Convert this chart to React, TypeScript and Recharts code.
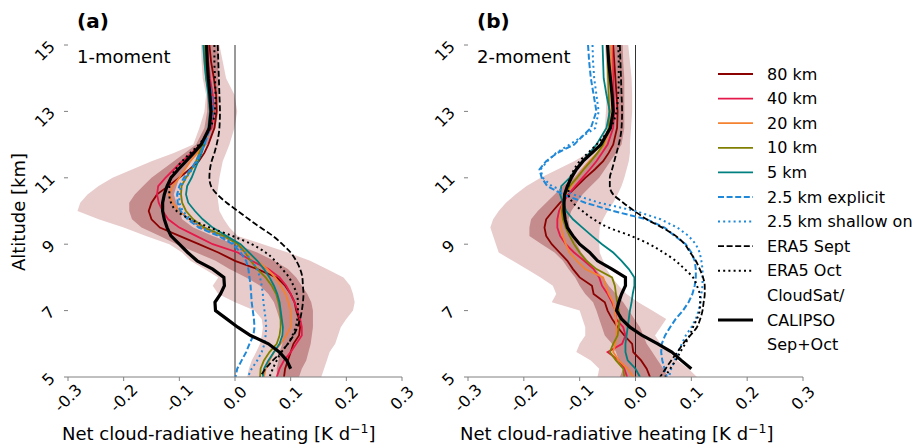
import React from 'react'
import { Area, ComposedChart, Line, ReferenceLine, XAxis, YAxis } from 'recharts'

// altitude levels [km]
const ALT = [5, 5.25, 5.5, 5.75, 6, 6.25, 6.5, 6.75, 7, 7.25, 7.5, 7.75, 8, 8.25, 8.5, 8.75, 9, 9.25, 9.5, 9.75, 10, 10.25, 10.5, 10.75, 11, 11.25, 11.5, 11.75, 12, 12.5, 13, 13.5, 14, 14.5, 15]
const X_TICKS = [-0.3, -0.2, -0.1, 0, 0.1, 0.2, 0.3]
const Y_TICKS = [5, 7, 9, 11, 13, 15]

// (a) 1-moment
const A_LIGHT_LO = [0.022, 0.025, 0.03, 0.038, 0.045, 0.048, 0.05, 0.048, 0.035, 0.0, -0.03, -0.04, -0.03, -0.055, -0.08, -0.095, -0.118, -0.16, -0.2, -0.245, -0.283, -0.278, -0.265, -0.245, -0.22, -0.185, -0.15, -0.11, -0.075, -0.064, -0.055, -0.052, -0.058, -0.06, -0.061]
const A_LIGHT_HI = [0.155, 0.16, 0.165, 0.17, 0.18, 0.185, 0.19, 0.2, 0.212, 0.215, 0.212, 0.207, 0.195, 0.165, 0.135, 0.095, 0.05, 0.005, -0.01, -0.02, -0.028, -0.03, -0.032, -0.03, -0.028, -0.025, -0.022, -0.016, -0.01, -0.001, 0.004, -0.001, -0.016, -0.022, -0.028]
const A_DARK_LO = [0.075, 0.075, 0.078, 0.08, 0.085, 0.085, 0.085, 0.08, 0.075, 0.07, 0.06, 0.045, 0.02, -0.01, -0.035, -0.07, -0.105, -0.135, -0.168, -0.185, -0.19, -0.19, -0.18, -0.165, -0.15, -0.13, -0.11, -0.09, -0.07, -0.055, -0.05, -0.05, -0.05, -0.05, -0.05]
const A_DARK_HI = [0.115, 0.12, 0.128, 0.132, 0.136, 0.138, 0.14, 0.14, 0.14, 0.137, 0.13, 0.12, 0.11, 0.095, 0.07, 0.04, 0.0, -0.04, -0.075, -0.095, -0.1, -0.105, -0.11, -0.105, -0.1, -0.09, -0.08, -0.065, -0.05, -0.035, -0.03, -0.03, -0.03, -0.03, -0.03]
const A_80 = [0.088, 0.09, 0.095, 0.1, 0.105, 0.115, 0.117, 0.115, 0.11, 0.107, 0.1, 0.09, 0.075, 0.04, 0.0, -0.03, -0.065, -0.1, -0.135, -0.15, -0.155, -0.15, -0.14, -0.12, -0.1, -0.082, -0.065, -0.055, -0.048, -0.037, -0.033, -0.034, -0.038, -0.043, -0.046]
const A_40 = [0.075, 0.08, 0.088, 0.1, 0.11, 0.12, 0.12, 0.117, 0.112, 0.107, 0.1, 0.092, 0.08, 0.06, 0.03, 0.005, -0.04, -0.07, -0.1, -0.12, -0.13, -0.137, -0.14, -0.138, -0.125, -0.11, -0.095, -0.078, -0.062, -0.042, -0.038, -0.04, -0.045, -0.048, -0.05]
const A_20 = [0.052, 0.055, 0.062, 0.07, 0.082, 0.092, 0.1, 0.1, 0.1, 0.096, 0.091, 0.082, 0.072, 0.058, 0.04, 0.022, 0.008, -0.025, -0.06, -0.082, -0.1, -0.112, -0.118, -0.112, -0.1, -0.09, -0.08, -0.068, -0.058, -0.045, -0.04, -0.045, -0.05, -0.052, -0.054]
const A_10 = [0.045, 0.046, 0.052, 0.062, 0.075, 0.08, 0.082, 0.082, 0.081, 0.078, 0.074, 0.066, 0.055, 0.04, 0.028, 0.018, 0.005, -0.02, -0.055, -0.075, -0.088, -0.095, -0.097, -0.096, -0.088, -0.078, -0.07, -0.064, -0.058, -0.046, -0.041, -0.046, -0.052, -0.054, -0.055]
const A_5 = [0.05, 0.052, 0.06, 0.07, 0.08, 0.085, 0.086, 0.084, 0.082, 0.08, 0.076, 0.07, 0.062, 0.052, 0.04, 0.025, 0.01, -0.015, -0.04, -0.058, -0.072, -0.084, -0.088, -0.086, -0.078, -0.072, -0.066, -0.06, -0.055, -0.048, -0.045, -0.048, -0.052, -0.055, -0.057]
const A_EXPL = [0.001, 0.004, 0.012, 0.02, 0.026, 0.033, 0.035, 0.034, 0.032, 0.03, 0.029, 0.028, 0.026, 0.024, 0.02, 0.01, -0.004, -0.03, -0.065, -0.085, -0.098, -0.103, -0.104, -0.1, -0.092, -0.08, -0.07, -0.062, -0.055, -0.045, -0.04, -0.042, -0.048, -0.05, -0.052]
const A_SHAL = [0.023, 0.03, 0.04, 0.048, 0.053, 0.055, 0.056, 0.055, 0.053, 0.051, 0.05, 0.048, 0.045, 0.04, 0.03, 0.018, 0.0, -0.025, -0.06, -0.08, -0.094, -0.1, -0.1, -0.097, -0.088, -0.077, -0.068, -0.061, -0.055, -0.045, -0.04, -0.043, -0.048, -0.05, -0.052]
const A_SEPT = [0.045, 0.055, 0.068, 0.083, 0.095, 0.105, 0.112, 0.117, 0.12, 0.122, 0.123, 0.122, 0.121, 0.117, 0.11, 0.1, 0.085, 0.068, 0.046, 0.025, 0.005, -0.015, -0.032, -0.043, -0.046, -0.045, -0.042, -0.037, -0.033, -0.028, -0.027, -0.028, -0.029, -0.03, -0.031]
const A_OCT = [0.062, 0.068, 0.075, 0.083, 0.095, 0.103, 0.109, 0.112, 0.113, 0.113, 0.111, 0.105, 0.097, 0.085, 0.072, 0.055, 0.03, -0.005, -0.045, -0.08, -0.105, -0.115, -0.118, -0.118, -0.115, -0.107, -0.095, -0.08, -0.065, -0.045, -0.036, -0.035, -0.036, -0.037, -0.037]
const A_CS = [null, 0.1, 0.093, 0.08, 0.06, 0.028, 0.005, -0.015, -0.035, -0.036, -0.026, -0.019, -0.02, -0.04, -0.068, -0.085, -0.1, -0.115, -0.122, -0.127, -0.13, -0.13, -0.127, -0.122, -0.115, -0.102, -0.088, -0.074, -0.061, -0.046, -0.043, -0.045, -0.048, -0.05, -0.051]

// (b) 2-moment
const B_LIGHT_LO = [-0.068, -0.065, -0.08, -0.106, -0.1, -0.09, -0.09, -0.095, -0.1, -0.15, -0.142, -0.148, -0.17, -0.195, -0.22, -0.245, -0.25, -0.255, -0.26, -0.255, -0.245, -0.232, -0.215, -0.195, -0.17, -0.14, -0.11, -0.085, -0.065, -0.055, -0.053, -0.052, -0.052, -0.053, -0.055]
const B_LIGHT_HI = [0.11, 0.095, 0.075, 0.06, 0.045, 0.035, 0.045, 0.055, 0.03, 0.005, -0.016, -0.03, -0.042, -0.052, -0.058, -0.064, -0.065, -0.065, -0.064, -0.058, -0.05, -0.04, -0.032, -0.025, -0.02, -0.016, -0.012, -0.01, -0.01, -0.008, -0.006, -0.006, -0.007, -0.01, -0.013]
const B_DARK_LO = [-0.028, -0.022, -0.03, -0.035, -0.042, -0.055, -0.06, -0.065, -0.07, -0.076, -0.09, -0.1, -0.108, -0.12, -0.13, -0.145, -0.168, -0.19, -0.19, -0.187, -0.175, -0.16, -0.145, -0.13, -0.11, -0.098, -0.085, -0.07, -0.055, -0.045, -0.043, -0.043, -0.045, -0.046, -0.047]
const B_DARK_HI = [0.058, 0.05, 0.04, 0.03, 0.02, 0.014, 0.008, -0.002, -0.012, -0.022, -0.035, -0.048, -0.058, -0.072, -0.085, -0.097, -0.105, -0.112, -0.118, -0.12, -0.115, -0.105, -0.095, -0.08, -0.065, -0.055, -0.045, -0.035, -0.025, -0.02, -0.02, -0.02, -0.02, -0.022, -0.023]
const B_80 = [0.026, 0.02, 0.01, -0.004, -0.006, -0.02, -0.032, -0.042, -0.05, -0.055, -0.075, -0.078, -0.1, -0.112, -0.122, -0.136, -0.15, -0.16, -0.163, -0.16, -0.148, -0.135, -0.12, -0.105, -0.09, -0.073, -0.058, -0.048, -0.04, -0.033, -0.032, -0.034, -0.036, -0.038, -0.04]
const B_40 = [-0.015, -0.02, -0.03, -0.05, -0.024, -0.018, -0.022, -0.035, -0.036, -0.042, -0.05, -0.06, -0.065, -0.075, -0.092, -0.11, -0.125, -0.135, -0.14, -0.14, -0.137, -0.13, -0.12, -0.108, -0.095, -0.082, -0.07, -0.06, -0.05, -0.04, -0.038, -0.039, -0.04, -0.041, -0.042]
const B_20 = [-0.004, -0.014, -0.03, -0.04, -0.036, -0.034, -0.034, -0.035, -0.037, -0.04, -0.048, -0.053, -0.058, -0.09, -0.105, -0.118, -0.125, -0.13, -0.133, -0.135, -0.133, -0.13, -0.125, -0.115, -0.105, -0.094, -0.082, -0.068, -0.056, -0.045, -0.043, -0.043, -0.043, -0.043, -0.043]
const B_10 = [-0.02, -0.022, -0.035, -0.046, -0.04, -0.032, -0.03, -0.028, -0.03, -0.033, -0.035, -0.037, -0.042, -0.07, -0.088, -0.1, -0.11, -0.118, -0.125, -0.13, -0.132, -0.13, -0.125, -0.118, -0.105, -0.093, -0.08, -0.068, -0.058, -0.048, -0.047, -0.048, -0.049, -0.05, -0.05]
const B_5 = [0.008, 0.0, -0.014, -0.018, -0.018, -0.016, -0.014, -0.012, -0.01, -0.007, -0.005, -0.002, -0.002, -0.012, -0.025, -0.04, -0.06, -0.078, -0.095, -0.112, -0.124, -0.13, -0.135, -0.133, -0.118, -0.107, -0.095, -0.082, -0.07, -0.052, -0.046, -0.052, -0.057, -0.058, -0.059]
const B_EXPL = [0.056, 0.052, 0.048, 0.046, 0.047, 0.053, 0.062, 0.072, 0.085, 0.095, 0.102, 0.106, 0.108, 0.108, 0.106, 0.1, 0.09, 0.07, 0.052, 0.02, -0.04, -0.09, -0.13, -0.158, -0.168, -0.172, -0.16, -0.14, -0.11, -0.08, -0.07, -0.075, -0.08, -0.083, -0.085]
const B_SHAL = [0.06, 0.064, 0.07, 0.076, 0.083, 0.09, 0.1, 0.108, 0.113, 0.116, 0.118, 0.12, 0.12, 0.12, 0.118, 0.115, 0.108, 0.095, 0.075, 0.045, 0.0, -0.065, -0.112, -0.15, -0.166, -0.17, -0.158, -0.142, -0.118, -0.072, -0.066, -0.07, -0.074, -0.076, -0.077]
const B_SEPT = [0.044, 0.054, 0.064, 0.075, 0.085, 0.098, 0.11, 0.116, 0.12, 0.122, 0.124, 0.124, 0.121, 0.115, 0.108, 0.098, 0.088, 0.072, 0.048, 0.02, -0.002, -0.022, -0.04, -0.046, -0.046, -0.042, -0.038, -0.034, -0.03, -0.025, -0.024, -0.025, -0.026, -0.027, -0.028]
const B_OCT = [0.053, 0.062, 0.072, 0.08, 0.089, 0.097, 0.103, 0.11, 0.115, 0.116, 0.115, 0.11, 0.103, 0.088, 0.072, 0.05, 0.025, -0.008, -0.048, -0.075, -0.095, -0.112, -0.12, -0.12, -0.117, -0.11, -0.1, -0.085, -0.07, -0.045, -0.034, -0.031, -0.03, -0.03, -0.031]
const B_CS = [null, 0.1, 0.082, 0.065, 0.04, 0.012, -0.01, -0.025, -0.034, -0.03, -0.025, -0.018, -0.018, -0.042, -0.068, -0.082, -0.1, -0.112, -0.122, -0.126, -0.128, -0.128, -0.127, -0.122, -0.115, -0.106, -0.094, -0.078, -0.062, -0.045, -0.04, -0.042, -0.045, -0.048, -0.05]

const LIGHT = '#e8cccc'
const DARK = '#c48c8c'
const BLUE = '#1f88d8'
const DASH = '6 2.6'
const DOT = '2 3.2'

const SERIES = [
  { key: 'r80', name: '80 km', color: '#8b0000', width: 1.8 },
  { key: 'r40', name: '40 km', color: '#e6194b', width: 1.8 },
  { key: 'r20', name: '20 km', color: '#f58231', width: 1.8 },
  { key: 'r10', name: '10 km', color: '#808000', width: 1.8 },
  { key: 'r5', name: '5 km', color: '#008080', width: 1.8 },
  { key: 'expl', name: '2.5 km explicit', color: BLUE, width: 2, dash: DASH },
  { key: 'shal', name: '2.5 km shallow on', color: BLUE, width: 2, dash: DOT },
  { key: 'sept', name: 'ERA5 Sept', color: '#000', width: 1.8, dash: DASH, curve: 'monotoneY' },
  { key: 'oct', name: 'ERA5 Oct', color: '#000', width: 2, dash: DOT, curve: 'monotoneY' },
  { key: 'cs', name: 'CloudSat/\nCALIPSO\nSep+Oct', color: '#000', width: 3.2 },
]

// rows ordered from 15 km down to 5 km so the profiles run top to bottom
const build = (series: Record<string, (number | null)[]>, light: number[][], dark: number[][]) =>
  ALT.map((alt, i) => {
    const row: any = { alt, light: [light[0][i], light[1][i]], dark: [dark[0][i], dark[1][i]] }
    Object.keys(series).forEach((k) => (row[k] = series[k][i]))
    return row
  }).reverse()

const ROWS_A = build(
  { r80: A_80, r40: A_40, r20: A_20, r10: A_10, r5: A_5, expl: A_EXPL, shal: A_SHAL, sept: A_SEPT, oct: A_OCT, cs: A_CS },
  [A_LIGHT_LO, A_LIGHT_HI],
  [A_DARK_LO, A_DARK_HI],
)
const ROWS_B = build(
  { r80: B_80, r40: B_40, r20: B_20, r10: B_10, r5: B_5, expl: B_EXPL, shal: B_SHAL, sept: B_SEPT, oct: B_OCT, cs: B_CS },
  [B_LIGHT_LO, B_LIGHT_HI],
  [B_DARK_LO, B_DARK_HI],
)

const FONT = 'DejaVu Sans, sans-serif'

const XTick = (props: any) => {
  const { x, payload } = props
  const v = payload.value
  const label = (v < 0 ? '-' : '') + Math.abs(v).toFixed(1)
  return (
    <text transform={`translate(${x},398) rotate(-45)`} textAnchor='middle' dominantBaseline='central' fontSize={16} fontFamily={FONT} fill='#000'>
      {label}
    </text>
  )
}

const YTick = (props: any) => {
  const { y, payload } = props
  return (
    <text transform={`translate(56,${y + 2.5}) rotate(-45)`} textAnchor='end' fontSize={16} fontFamily={FONT} fill='#000'>
      {payload.value}
    </text>
  )
}

const Panel = ({ rows, left, right }: { rows: any[]; left: number; right: number }) => (
  <div style={{ position: 'absolute', left, top: 0 }}>
    <ComposedChart width={430} height={445} data={rows} layout='vertical' margin={{ top: 45, right, bottom: 0, left: 0 }}>
      <XAxis type='number' domain={[-0.3, 0.3]} ticks={X_TICKS} allowDataOverflow height={68} tick={<XTick />} tickSize={4} axisLine={{ stroke: '#808080' }} tickLine={{ stroke: '#808080' }} interval={0} />
      <YAxis type='number' dataKey='alt' domain={[5, 15]} ticks={Y_TICKS} reversed allowDataOverflow width={68} tick={<YTick />} tickSize={4} axisLine={false} tickLine={{ stroke: '#808080' }} interval={0} />
      <Area dataKey='light' type='linear' stroke='none' fill={LIGHT} fillOpacity={1} dot={false} activeDot={false} isAnimationActive={false} />
      <Area dataKey='dark' type='linear' stroke='none' fill={DARK} fillOpacity={1} dot={false} activeDot={false} isAnimationActive={false} />
      <ReferenceLine x={0} stroke='#000' strokeWidth={0.8} />
      {SERIES.map((s) => (
        <Line
          key={s.key}
          dataKey={s.key}
          type={(s.curve as any) || 'linear'}
          stroke={s.color}
          strokeWidth={s.width}
          strokeDasharray={s.dash}
          dot={false}
          activeDot={false}
          isAnimationActive={false}
        />
      ))}
    </ComposedChart>
  </div>
)

const Legend = () => {
  let y = 74
  const step = 24.6
  return (
    <g>
      {SERIES.map((s) => {
        const lines = s.name.split('\n')
        const top = y
        const mid = top + ((lines.length - 1) * step) / 2
        y += lines.length * step
        return (
          <g key={s.key}>
            <line x1={718} x2={753} y1={mid} y2={mid} stroke={s.color} strokeWidth={s.width} strokeDasharray={s.dash} />
            {lines.map((t, i) => (
              <text key={i} x={767} y={top + i * step} dominantBaseline='central' fontSize={16} fontFamily={FONT} fill='#000'>
                {t}
              </text>
            ))}
          </g>
        )
      })}
    </g>
  )
}

const XLabel = ({ x }: { x: number }) => (
  <text x={x} y={440} fontSize={18} fontFamily={FONT} fill='#000'>
    Net cloud-radiative heating [K d
    <tspan fontSize={12.5} dy={-7}>−1</tspan>
    <tspan dy={7}>]</tspan>
  </text>
)

const App = () => (
  <div style={{ position: 'absolute', left: 0, top: 0, width: 922, height: 445, background: '#fff', overflow: 'hidden' }}>
    <Panel rows={ROWS_A} left={0} right={28} />
    <Panel rows={ROWS_B} left={400} right={27} />
    <svg width={922} height={445} style={{ position: 'absolute', left: 0, top: 0, pointerEvents: 'none' }}>
      <text x={77} y={28} fontSize={20} fontWeight='bold' fontFamily={FONT}>(a)</text>
      <text x={477} y={28} fontSize={20} fontWeight='bold' fontFamily={FONT}>(b)</text>
      <text x={77} y={63} fontSize={18} fontFamily={FONT}>1-moment</text>
      <text x={477} y={63} fontSize={18} fontFamily={FONT}>2-moment</text>
      <text transform='translate(25,212) rotate(-90)' textAnchor='middle' fontSize={18} fontFamily={FONT}>Altitude [km]</text>
      <XLabel x={62} />
      <XLabel x={460} />
      <Legend />
    </svg>
  </div>
)

export default App
